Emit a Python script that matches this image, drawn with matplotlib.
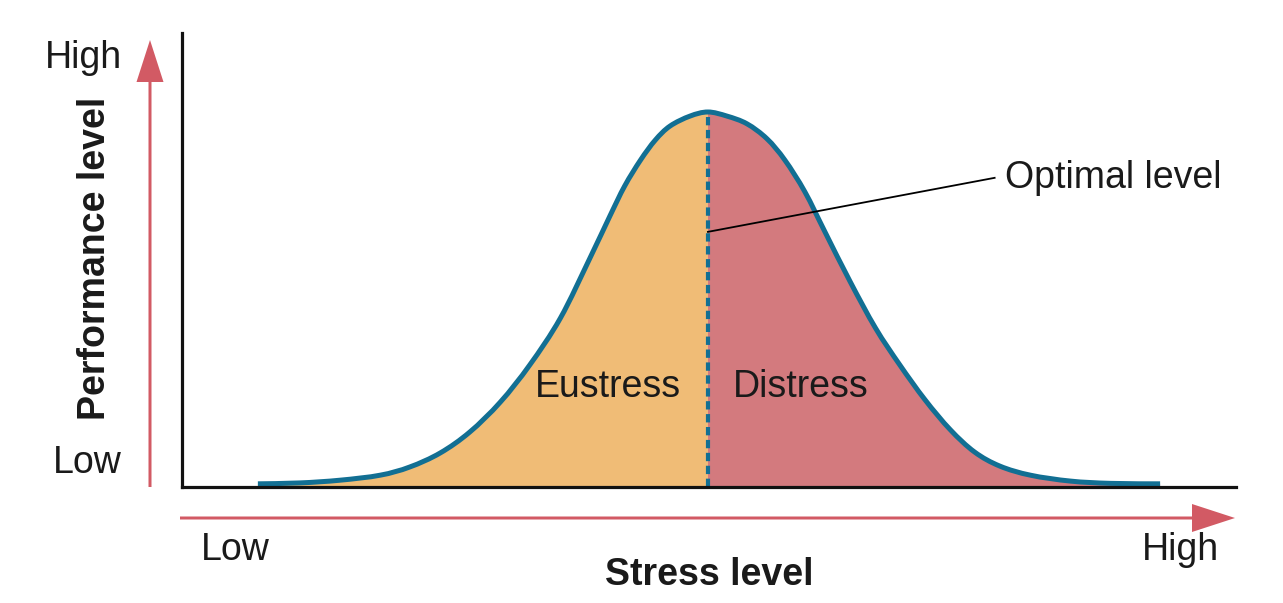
import numpy as np
import matplotlib
matplotlib.use('Agg')
import matplotlib.pyplot as plt
from matplotlib.patches import FancyArrow, PathPatch
from matplotlib.path import Path

plt.rcParams['font.family'] = ['Liberation Sans', 'DejaVu Sans']

# curve (stress 0..100, performance 0..100)
stress = [7.2, 11.2, 15.0, 18.8, 21.6, 24.5, 27.3, 30.2, 33.0, 35.9, 38.7,
          40.6, 42.0, 43.5, 44.9, 46.3, 48.2, 49.9,
          51.7, 53.6, 55.5, 57.2, 59.1, 61.0, 63.4, 65.8, 68.1, 70.5, 72.9,
          75.2, 77.6, 80.5, 84.3, 88.1, 92.8]
performance = [0.7, 0.9, 1.5, 2.6, 4.4, 7.5, 12.1, 18.7, 26.9, 37.2, 50.4,
               59.7, 66.3, 72.0, 76.4, 79.5, 81.7, 82.6,
               81.7, 80.0, 76.7, 72.0, 65.0, 56.2, 45.2, 35.0, 26.9, 19.2, 12.6,
               7.7, 4.6, 2.6, 1.3, 0.8, 0.7]
optimal_idx = 17  # peak point, splits eustress / distress
region_labels = ['Eustress', 'Distress']

BLUE = '#126f93'
ORANGE = '#f0bc76'
PINK = '#d37a7e'
RED = '#d25a64'
TXT = '#1a1a1a'
FS = 27


def smooth_verts(px, py, i0, i1):
    # Catmull-Rom through the points i0..i1, as cubic bezier vertices
    pts = np.column_stack([px, py])
    n = len(pts)
    verts = [tuple(pts[i0])]
    codes = [Path.MOVETO]
    for i in range(i0, i1):
        p0 = pts[max(i - 1, 0)]
        p1 = pts[i]
        p2 = pts[i + 1]
        p3 = pts[min(i + 2, n - 1)]
        c1 = p1 + (p2 - p0) / 6.0
        c2 = p2 - (p3 - p1) / 6.0
        verts += [tuple(c1), tuple(c2), tuple(p2)]
        codes += [Path.CURVE4] * 3
    return verts, codes


def area_path(px, py, i0, i1):
    verts, codes = smooth_verts(px, py, i0, i1)
    verts = [(px[i0], 0)] + verts + [(px[i1], 0), (px[i0], 0)]
    codes = [Path.MOVETO, Path.LINETO] + codes[1:] + [Path.LINETO, Path.CLOSEPOLY]
    return Path(verts, codes)


W, H = 1283, 603
fig = plt.figure(figsize=(W / 100, H / 100), dpi=100)

# background axes in pixel coords for arrows and labels
bg = fig.add_axes([0, 0, 1, 1])
bg.set_xlim(0, W)
bg.set_ylim(H, 0)
bg.axis('off')

ax = fig.add_axes([182 / W, (H - 487) / H, (1236 - 182) / W, (487 - 33) / H])
ax.set_xlim(0, 100)
ax.set_ylim(0, 100)
for s in ['top', 'right']:
    ax.spines[s].set_visible(False)
for s in ['left', 'bottom']:
    ax.spines[s].set_linewidth(2.3)
    ax.spines[s].set_color('#111111')
    ax.spines[s].set_zorder(5)
ax.set_xticks([])
ax.set_yticks([])
ax.patch.set_alpha(0)

x = np.array(stress)
y = np.array(performance)
last = len(x) - 1
ax.add_patch(PathPatch(area_path(x, y, 0, optimal_idx), facecolor=ORANGE, lw=0, zorder=1))
ax.add_patch(PathPatch(area_path(x, y, optimal_idx, last), facecolor=PINK, lw=0, zorder=1))
v, c = smooth_verts(x, y, 0, last)
ax.add_patch(PathPatch(Path(v, c), facecolor='none', edgecolor=BLUE, lw=3.6,
                       capstyle='butt', zorder=3))

opt_x, opt_y = x[optimal_idx], y[optimal_idx]
ax.plot([opt_x, opt_x], [0, opt_y], color=BLUE, lw=3.0,
        ls=(0, (2.0, 1.1)), zorder=2)

ax.plot([opt_x, 77.1], [56.2, 68.1], color='black', lw=1.3, zorder=4)
ax.text(78.1, 68.1, 'Optimal level', fontsize=FS, color=TXT, va='center', ha='left')
ax.text(40.4, 22.0, region_labels[0], fontsize=FS, color=TXT, va='center', ha='center')
ax.text(58.7, 22.0, region_labels[1], fontsize=FS, color=TXT, va='center', ha='center')

# red arrows
bg.add_patch(FancyArrow(150, 487, 0, -447, width=3, head_width=27, head_length=42,
                        length_includes_head=True, color=RED, lw=0))
bg.add_patch(FancyArrow(180, 518, 1055, 0, width=3, head_width=28, head_length=43,
                        length_includes_head=True, color=RED, lw=0))

bg.text(122, 58, 'High', fontsize=FS, color=TXT, ha='right', va='center')
bg.text(122, 463, 'Low', fontsize=FS, color=TXT, ha='right', va='center')
bg.text(95, 258, 'Performance level', fontsize=FS, color=TXT, ha='center', va='center',
        rotation=90, fontweight='bold')
bg.text(235, 550, 'Low', fontsize=FS, color=TXT, ha='center', va='center')
bg.text(1180, 550, 'High', fontsize=FS, color=TXT, ha='center', va='center')
bg.text(709, 575, 'Stress level', fontsize=FS, color=TXT, ha='center', va='center',
        fontweight='bold')

plt.savefig('out.png', dpi=100)
